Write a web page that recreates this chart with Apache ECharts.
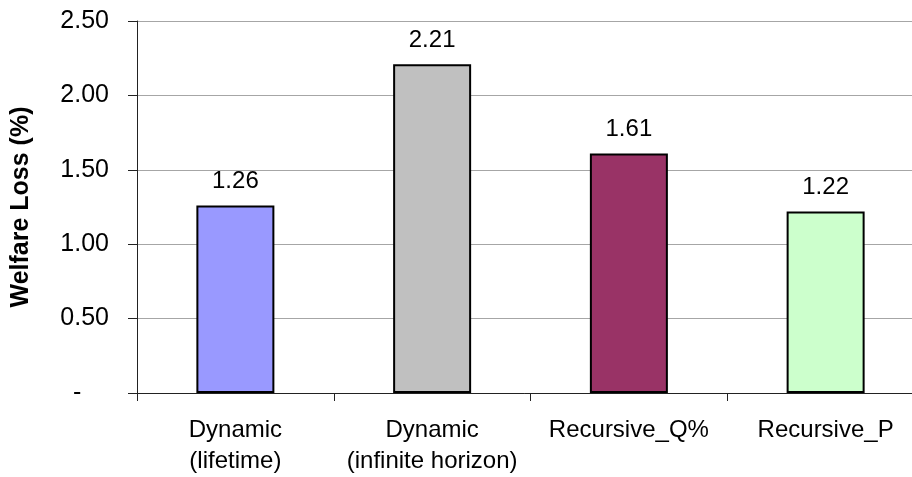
<!DOCTYPE html>
<html>
<head>
<meta charset="utf-8">
<script src="https://cdn.jsdelivr.net/npm/echarts@6/dist/echarts.min.js"></script>
<style>
html,body{margin:0;padding:0;background:#fff;}
#chart{width:912px;height:477px;}
</style>
</head>
<body>
<div id="chart"></div>
<script>
var categories = ['Dynamic\n(lifetime)', 'Dynamic\n(infinite horizon)', 'Recursive_Q%', 'Recursive_P'];
var welfareLoss = [1.26, 2.21, 1.61, 1.22];
var barColors = ['#9999FF', '#C0C0C0', '#993366', '#CCFFCC'];
var yTicks = { min: 0, max: 2.5, interval: 0.5 };
var yTitle = 'Welfare Loss (%)';

var font = 'Liberation Sans, Arial, sans-serif';
var chart = echarts.init(document.getElementById('chart'), null, { renderer: 'canvas' });
chart.setOption({
  animation: false,
  backgroundColor: '#ffffff',
  grid: { left: 137, width: 787, top: 21, height: 372, containLabel: false, outerBoundsMode: 'none' },
  xAxis: {
    type: 'category',
    data: categories,
    axisLine: { show: true, lineStyle: { color: '#222', width: 1 } },
    axisTick: { show: true, length: 8, lineStyle: { color: '#222' } },
    axisLabel: { margin: 22, fontSize: 24, lineHeight: 31, color: '#000', fontFamily: font, interval: 0 },
    splitLine: { show: false }
  },
  yAxis: {
    type: 'value',
    min: yTicks.min, max: yTicks.max, interval: yTicks.interval,
    name: yTitle,
    nameLocation: 'middle',
    nameGap: 103,
    nameTextStyle: { fontSize: 25, fontWeight: 'bold', color: '#000', fontFamily: font },
    axisLine: { show: true, lineStyle: { color: '#222', width: 1 } },
    axisTick: { show: true, length: 9, lineStyle: { color: '#222' } },
    axisLabel: {
      margin: 28, fontSize: 25, color: '#000', fontFamily: font,
      formatter: function (v) { return v === 0 ? '-\u00a0\u00a0\u00a0\u00a0' : v.toFixed(2); }
    },
    splitLine: { show: true, lineStyle: { color: '#a6a6a6', width: 1 } }
  },
  series: [{
    type: 'bar',
    barWidth: 78,
    data: welfareLoss.map(function (v, i) {
      return { value: v, itemStyle: { color: barColors[i] } };
    }),
    itemStyle: { borderColor: '#000', borderWidth: 2 },
    label: {
      show: true, position: 'top', distance: 12,
      fontSize: 24, color: '#000', fontFamily: font,
      formatter: function (p) { return p.value.toFixed(2); }
    }
  }]
});
</script>
</body>
</html>
